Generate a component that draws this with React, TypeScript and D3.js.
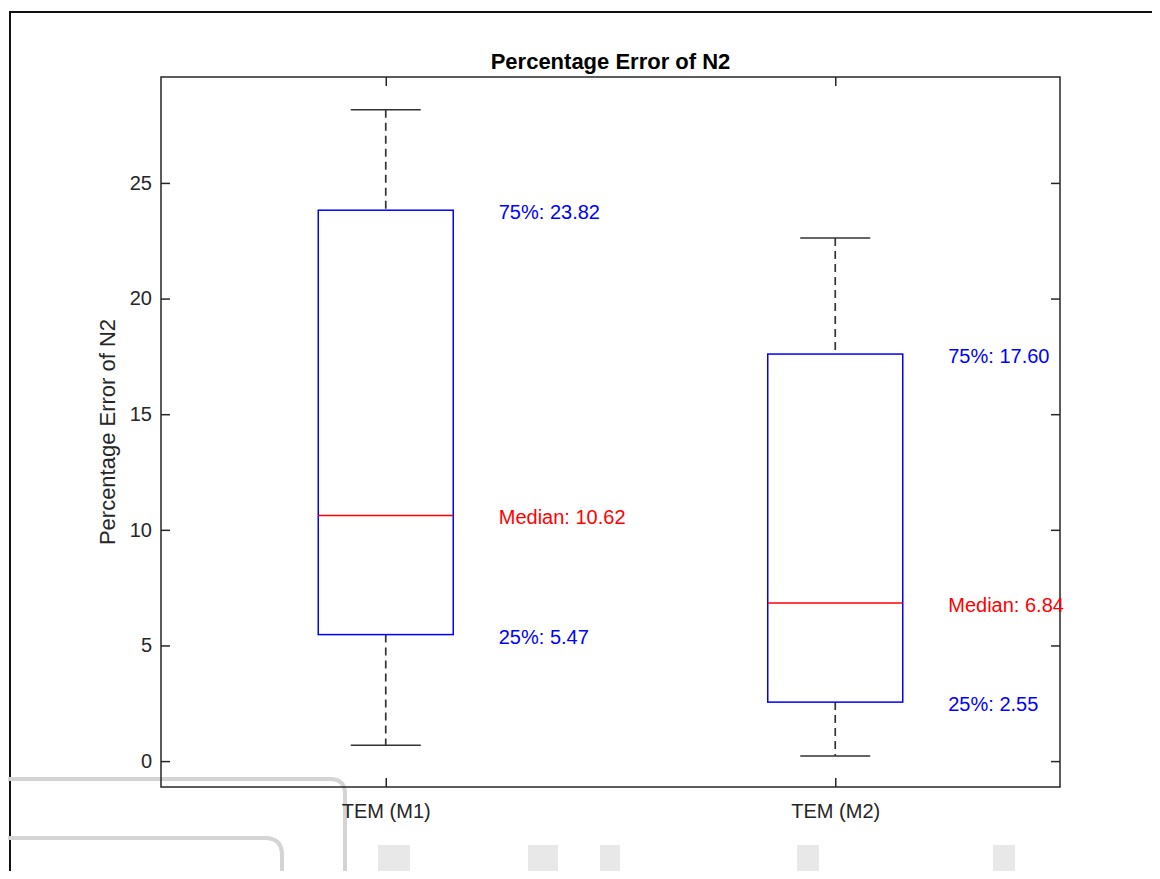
import * as d3 from "d3";
import React, { useRef, useEffect } from "react";

const width = 1160;
const height = 879;

const margin = { top: 77, right: 100, bottom: 92, left: 161 };
const bodyWidth = width - (margin.left + margin.right);
const bodyHeight = height - (margin.top + margin.bottom);

const categories = ["TEM (M1)", "TEM (M2)"];
const whiskerLow = [0.69, 0.22];
const q1 = [5.47, 2.55];
const median = [10.62, 6.84];
const q3 = [23.82, 17.6];
const whiskerHigh = [28.16, 22.62];
const yTicks = [0, 5, 10, 15, 20, 25];

const axisColor = "#262626";
const font = "'Liberation Sans', Arial, Helvetica, sans-serif";

const BoxChart = () => {
  const ref = useRef<SVGSVGElement>(null);

  useEffect(() => {
    const svg = d3.select(ref.current);
    svg.selectAll("*").remove();

    // page frame of the scanned figure
    svg
      .append("path")
      .attr("d", `M10,${height + 5} V12 H${width + 5}`)
      .attr("fill", "none")
      .attr("stroke", "#111")
      .attr("stroke-width", 2);

    // faint scan artifacts
    const ghost = svg.append("g").attr("fill", "none").attr("stroke", "#d4d4d4").attr("stroke-width", 4);
    ghost.append("path").attr("d", "M0,779 H330 Q345,779 345,794 V879");
    ghost.append("path").attr("d", "M0,838 H265 Q282,838 282,855 V879");
    const blocks = [
      [378, 32],
      [528, 30],
      [600, 20],
      [797, 22],
      [993, 22],
    ];
    blocks.forEach(([bx, bw]) => {
      svg.append("rect").attr("x", bx).attr("y", 845).attr("width", bw).attr("height", 34).attr("fill", "#e8e8e8");
    });

    const main = svg.append("g").attr("transform", `translate(${margin.left},${margin.top})`);

    const xScale = d3.scalePoint().domain(categories).range([0, bodyWidth]).padding(0.5);
    const yScale = d3.scaleLinear().domain([-1.12, 29.58]).range([bodyHeight, 0]);

    const boxHalf = 67.5;
    const capHalf = 35;

    // axes with inner ticks
    const tick = 9;
    const yl = main.append("g").call(d3.axisLeft(yScale).tickValues(yTicks).tickSizeInner(-tick).tickSizeOuter(0).tickPadding(9));
    const yr = main
      .append("g")
      .attr("transform", `translate(${bodyWidth},0)`)
      .call(d3.axisRight(yScale).tickValues(yTicks).tickSizeInner(-tick).tickSizeOuter(0).tickFormat(() => ""));
    const xb = main
      .append("g")
      .attr("transform", `translate(0,${bodyHeight})`)
      .call(d3.axisBottom(xScale).tickSizeInner(-tick).tickSizeOuter(0).tickPadding(17));
    const xt = main.append("g").call(d3.axisTop(xScale).tickSizeInner(-tick).tickSizeOuter(0).tickFormat(() => ""));

    [yl, yr, xb, xt].forEach((g) => {
      g.select(".domain").remove();
      g.selectAll("line").attr("stroke", axisColor).attr("stroke-width", 1.5);
      g.selectAll("text").attr("fill", axisColor).style("font-family", font).style("font-size", "20px");
    });

    main
      .append("rect")
      .attr("width", bodyWidth)
      .attr("height", bodyHeight)
      .attr("fill", "none")
      .attr("stroke", axisColor)
      .attr("stroke-width", 1.5);

    categories.forEach((c, i) => {
      const cx = xScale(c) as number;
      const g = main.append("g");

      // whiskers
      g.append("line")
        .attr("x1", cx).attr("x2", cx)
        .attr("y1", yScale(whiskerHigh[i])).attr("y2", yScale(q3[i]))
        .attr("stroke", "#333").attr("stroke-width", 1.7).attr("stroke-dasharray", "8,5");
      g.append("line")
        .attr("x1", cx).attr("x2", cx)
        .attr("y1", yScale(q1[i])).attr("y2", yScale(whiskerLow[i]))
        .attr("stroke", "#333").attr("stroke-width", 1.7).attr("stroke-dasharray", "8,5");
      [whiskerHigh[i], whiskerLow[i]].forEach((v) => {
        g.append("line")
          .attr("x1", cx - capHalf).attr("x2", cx + capHalf)
          .attr("y1", yScale(v)).attr("y2", yScale(v))
          .attr("stroke", "#333").attr("stroke-width", 1.5);
      });

      g.append("rect")
        .attr("x", cx - boxHalf)
        .attr("y", yScale(q3[i]))
        .attr("width", boxHalf * 2)
        .attr("height", yScale(q1[i]) - yScale(q3[i]))
        .attr("fill", "none")
        .attr("stroke", "#0000ff")
        .attr("stroke-width", 1.5);

      g.append("line")
        .attr("x1", cx - boxHalf).attr("x2", cx + boxHalf)
        .attr("y1", yScale(median[i])).attr("y2", yScale(median[i]))
        .attr("stroke", "#ff0000").attr("stroke-width", 1.5);

      const labels = [
        { v: q3[i], t: `75%: ${q3[i].toFixed(2)}`, col: "#0000ff" },
        { v: median[i], t: `Median: ${median[i].toFixed(2)}`, col: "#ff0000" },
        { v: q1[i], t: `25%: ${q1[i].toFixed(2)}`, col: "#0000ff" },
      ];
      labels.forEach((l) => {
        g.append("text")
          .attr("x", cx + 113)
          .attr("y", yScale(l.v) + 2)
          .attr("dy", "0.35em")
          .attr("fill", l.col)
          .style("font-family", font)
          .style("font-size", "20px")
          .text(l.t);
      });
    });

    main
      .append("text")
      .attr("x", bodyWidth / 2)
      .attr("y", -8)
      .attr("text-anchor", "middle")
      .attr("fill", "#000")
      .style("font-family", font)
      .style("font-size", "22px")
      .style("font-weight", "bold")
      .text("Percentage Error of N2");

    main
      .append("text")
      .attr("transform", `translate(${-46},${bodyHeight / 2}) rotate(-90)`)
      .attr("text-anchor", "middle")
      .attr("fill", axisColor)
      .style("font-family", font)
      .style("font-size", "22px")
      .text("Percentage Error of N2");
  }, []);

  return <svg ref={ref} width={width} height={height} style={{ display: "block" }}></svg>;
};

export default function App() {
  return (
    <div style={{ margin: -8 }}>
      <BoxChart />
    </div>
  );
}
